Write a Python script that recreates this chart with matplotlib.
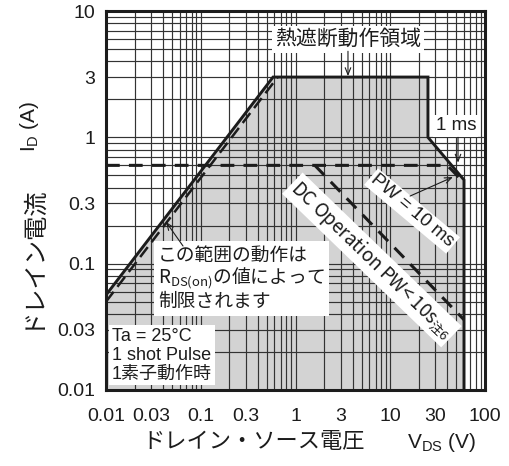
import numpy as np
import matplotlib
matplotlib.use("Agg")
import matplotlib.pyplot as plt
from matplotlib.ticker import FixedLocator, NullFormatter, LogLocator

plt.rcParams['font.family'] = ['Liberation Sans', 'Noto Sans CJK JP']
plt.rcParams['mathtext.default'] = 'regular'

# Axis ticks
v_ticks = [0.01, 0.03, 0.1, 0.3, 1, 3, 10, 30, 100]
v_labels = ['0.01', '0.03', '0.1', '0.3', '1', '3', '10', '30', '100']
i_ticks = [0.01, 0.03, 0.1, 0.3, 1, 3, 10]
i_labels = ['0.01', '0.03', '0.1', '0.3', '1', '3', '10']

# Safe operating area boundary (1 ms pulse, solid)
soa_v = [0.01, 0.58, 25, 25, 60, 60]
soa_i = [0.0565, 3.0, 3.0, 1.0, 0.46, 0.01]

# R_DS(on) limit, dashed companion line
rds_v = [0.01, 0.65]
rds_i = [0.050, 3.0]

# PW = 10 ms limit
pw10_v = [0.01, 40, 58]
pw10_i = [0.6, 0.6, 0.45]

# DC operation limit
dc_v = [1.6, 60]
dc_i = [0.6, 0.036]

W, H = 510, 466
fig = plt.figure(figsize=(W / 100, H / 100), dpi=100)
ax = fig.add_axes([106 / W, 1 - 390 / H, (485 - 106) / W, (390 - 11) / H])

ax.set_xscale('log')
ax.set_yscale('log')
ax.set_xlim(0.01, 100)
ax.set_ylim(0.01, 10)

line_c = '#1c1c1c'
fill_c = '#d3d3d3'

# Shaded region under the boundary
fill_v = [soa_v[0]] + soa_v
fill_i = [0.01] + soa_i
ax.fill(fill_v, fill_i, color=fill_c, lw=0, zorder=1)

# Grid
ax.xaxis.set_major_locator(FixedLocator(v_ticks))
ax.yaxis.set_major_locator(FixedLocator(i_ticks))
ax.xaxis.set_minor_locator(LogLocator(base=10, subs=np.arange(1, 10)))
ax.yaxis.set_minor_locator(LogLocator(base=10, subs=np.arange(1, 10)))
ax.xaxis.set_minor_formatter(NullFormatter())
ax.yaxis.set_minor_formatter(NullFormatter())
ax.set_xticklabels(v_labels)
ax.set_yticklabels(i_labels)
ax.set_axisbelow('line')
ax.grid(True, which='both', color='#333333', lw=0.85)
ax.tick_params(which='both', length=0)
ax.tick_params(axis='x', pad=13, labelsize=14, colors='#1c1c1c')
ax.tick_params(axis='y', pad=8, labelsize=14, colors='#1c1c1c')
for s in ax.spines.values():
    s.set_linewidth(2.2)
    s.set_color(line_c)

# Limit lines
ax.plot(soa_v, soa_i, color=line_c, lw=2.1, zorder=4, solid_joinstyle='miter')
ax.plot(rds_v, rds_i, color=line_c, lw=1.8, ls=(0, (5, 2.5)), zorder=4)
ax.plot(pw10_v, pw10_i, color=line_c, lw=2.2, ls=(0, (4.5, 3)), zorder=4)
ax.plot(dc_v, dc_i, color=line_c, lw=2.2, ls=(0, (4.5, 3)), zorder=4)

box = dict(boxstyle='square,pad=0.12', fc='white', ec='none')
arrow = dict(arrowstyle='->,head_length=0.5,head_width=0.2', color=line_c, lw=0.8,
             shrinkA=0, shrinkB=0)

# Thermal shutdown region label
ax.text(3.58, 6.0, '熱遮断動作領域', family='Noto Sans CJK JP', fontsize=15,
        ha='center', va='center', bbox=box, zorder=6, color=line_c)
ax.annotate('', xy=(3.58, 3.05), xytext=(3.58, 4.8), arrowprops=arrow, zorder=6)

# 1 ms label
ax.text(49.4, 1.23, '1 ms', fontsize=13.5, ha='center', va='center',
        bbox=box, zorder=6, color=line_c)
ax.annotate('', xy=(51.9, 0.63), xytext=(51.9, 1.0), arrowprops=arrow, zorder=6)

# PW = 10 ms label
ax.text(17.0, 0.261, 'PW = 10 ms', fontsize=13.5, ha='center', va='center',
        rotation=-40, rotation_mode='anchor', bbox=box, zorder=6, color=line_c)
ax.annotate('', xy=(45.9, 0.485), xytext=(16.2, 0.343), arrowprops=arrow, zorder=6)

# DC operation label
ax.text(6.4, 0.107, 'DC Operation PW< 10s$_{注6}$', family='Noto Sans CJK JP',
        fontsize=13.5, ha='center', va='center', rotation=-44,
        rotation_mode='anchor', bbox=box, zorder=6, color=line_c)

# R_DS(on) note
ax.text(0.0354, 0.0765, 'この範囲の動作は\nR$_{DS(on)}$の値によって\n制限されます',
        family='Noto Sans CJK JP', fontsize=13.5, ha='left', va='center',
        linespacing=1.0, bbox=dict(boxstyle='square,pad=0.22', fc='white', ec='none'),
        zorder=6, color=line_c)
ax.annotate('', xy=(0.043, 0.214), xytext=(0.065, 0.138), arrowprops=arrow, zorder=6)

# Conditions
ax.text(0.0116, 0.0189, 'Ta = 25°C\n1 shot Pulse\n1素子動作時', fontsize=13,
        ha='left', va='center', linespacing=1.15,
        bbox=dict(boxstyle='square,pad=0.15', fc='white', ec='none'),
        zorder=6, color=line_c)

# Axis titles
fig.text(142 / W, 1 - 448 / H, 'ドレイン・ソース電圧', family='Noto Sans CJK JP',
         fontsize=16, ha='left', va='baseline', color=line_c)
fig.text(407 / W, 1 - 448 / H, 'V$_{DS}$ (V)', fontsize=15, ha='left',
         va='baseline', color=line_c)
fig.text(30 / W, 1 - 329 / H, 'ドレイン電流', family='Noto Sans CJK JP',
         fontsize=17.5, ha='center', va='bottom', rotation=90, color=line_c)
fig.text(30 / W, 1 - 152 / H, 'I$_{D}$ (A)', fontsize=15, ha='center',
         va='bottom', rotation=90, color=line_c)

fig.savefig('out.png', dpi=100)
